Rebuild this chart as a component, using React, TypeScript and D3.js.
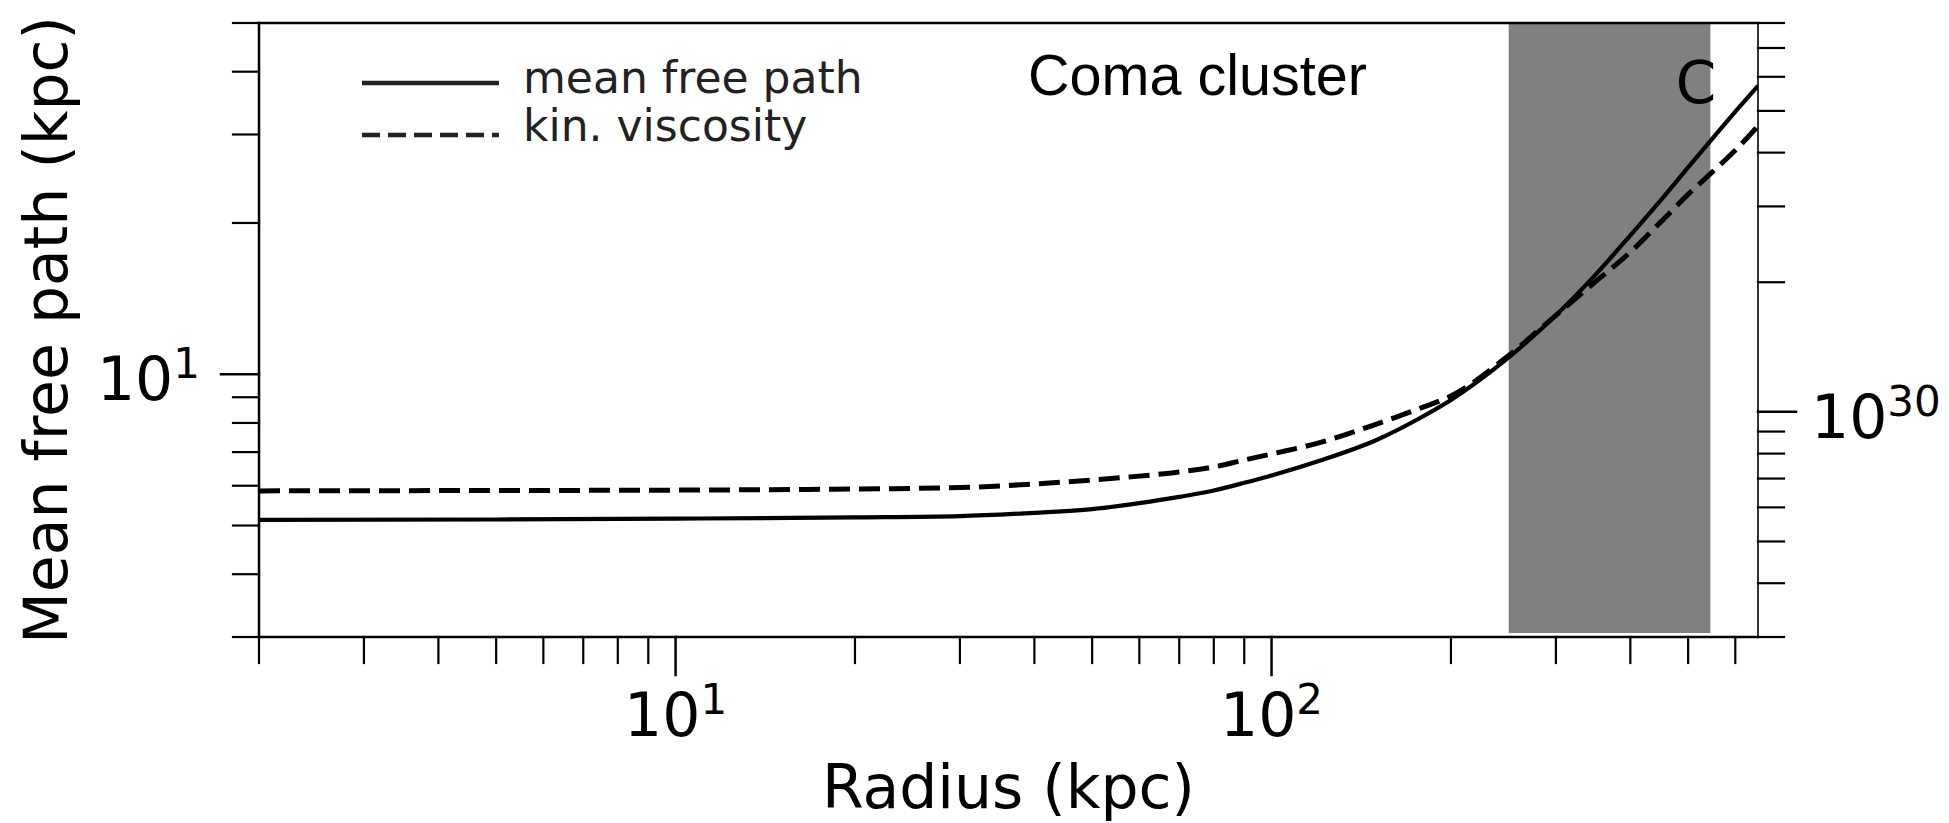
import { useEffect, useRef } from "react";
import * as d3 from "d3";

// Radius (kpc) sample points
const radius = [2, 5, 10, 20, 30, 40, 50, 60, 70, 80, 90, 100, 120, 150, 180, 200, 250, 300, 350, 400, 450, 500, 550, 600, 655];
// mean free path (kpc), solid line
const meanFreePath = [5.13, 5.14, 5.16, 5.19, 5.22, 5.3, 5.39, 5.54, 5.7, 5.87, 6.08, 6.29, 6.72, 7.4, 8.26, 8.89, 10.8, 13.1, 15.8, 18.9, 22.2, 25.8, 29.5, 33.3, 37.5];
// kinematic viscosity, dashed line (drawn in left-axis units)
const kinViscosity = [5.86, 5.87, 5.88, 5.91, 5.95, 6.05, 6.16, 6.27, 6.39, 6.54, 6.75, 6.94, 7.3, 7.96, 8.61, 9.05, 10.9, 13.1, 15.3, 17.5, 20.1, 22.8, 25.3, 27.9, 31.2];

// shaded band (kpc)
const bandRange = [250, 545];

const xDomain = [2, 655];
const yDomain = [3, 50];
const yRightDomain = [3e29, 8e30];

const xMajor = [10, 100];
const xMajorExp = ["1", "2"];
const xMinor = [2, 3, 4, 5, 6, 7, 8, 9, 20, 30, 40, 50, 60, 70, 80, 90, 200, 300, 400, 500, 600];
const yMajor = [10];
const yMajorExp = ["1"];
const yMinor = [3, 4, 5, 6, 7, 8, 9, 20, 30, 40, 50];
const yRightMajor = [1e30];
const yRightMajorExp = ["30"];
const yRightMinor = [3e29, 4e29, 5e29, 6e29, 7e29, 8e29, 9e29, 2e30, 3e30, 4e30, 5e30, 6e30, 7e30, 8e30];

const legendItems = [
    { label: "mean free path", dash: null },
    { label: "kin. viscosity", dash: "18,8" },
];

export default function App() {
    const svgRef = useRef<SVGSVGElement>(null);

    useEffect(() => {
        document.body.style.margin = "0";
        if (!svgRef.current) return;

        const svg = d3.select(svgRef.current);
        svg.selectAll("*").remove();

        const W = 1949, H = 823;
        const left = 259, right = 1758, top = 23, bottom = 637;
        const font = "'DejaVu Sans', sans-serif";

        svg.attr("width", W).attr("height", H);

        const x = d3.scaleLog().domain(xDomain).range([left, right]);
        const y = d3.scaleLog().domain(yDomain).range([bottom, top]);
        const yR = d3.scaleLog().domain(yRightDomain).range([bottom, top]);

        svg.append("defs").append("clipPath").attr("id", "plot-clip")
            .append("rect").attr("x", left).attr("y", top)
            .attr("width", right - left).attr("height", bottom - top);

        // Shaded band
        svg.append("rect")
            .attr("x", x(bandRange[0]))
            .attr("y", top)
            .attr("width", x(bandRange[1]) - x(bandRange[0]))
            .attr("height", bottom - top - 4)
            .attr("fill", "#808080");

        // Curves
        const line = d3.line<number>()
            .x((_, i) => x(radius[i]))
            .y(d => y(d))
            .curve(d3.curveMonotoneX);

        const plot = svg.append("g").attr("clip-path", "url(#plot-clip)");
        plot.append("path")
            .attr("d", line(meanFreePath))
            .attr("fill", "none")
            .attr("stroke", "#000")
            .attr("stroke-width", 4.2);
        plot.append("path")
            .attr("d", line(kinViscosity))
            .attr("fill", "none")
            .attr("stroke", "#000")
            .attr("stroke-width", 5)
            .attr("stroke-dasharray", "21,9");

        // Spines
        const spine = (x1: number, y1: number, x2: number, y2: number, w: number) =>
            svg.append("line").attr("x1", x1).attr("y1", y1).attr("x2", x2).attr("y2", y2)
                .attr("stroke", "#000").attr("stroke-width", w).attr("stroke-linecap", "square");
        spine(left, top, right, top, 2.5);
        spine(left, bottom, right, bottom, 2.5);
        spine(left, top, left, bottom, 2.5);
        spine(right, top, right, bottom, 1.6);

        const majorLen = 38, minorLen = 26;

        // X ticks
        xMinor.forEach(v => spine(x(v), bottom, x(v), bottom + minorLen, 2.2));
        xMajor.forEach(v => spine(x(v), bottom, x(v), bottom + majorLen, 2.5));
        // Left Y ticks
        yMinor.forEach(v => spine(left, y(v), left - minorLen, y(v), 2.2));
        yMajor.forEach(v => spine(left, y(v), left - majorLen, y(v), 2.5));
        // Right Y ticks
        yRightMinor.forEach(v => spine(right, yR(v), right + minorLen, yR(v), 2.2));
        yRightMajor.forEach(v => spine(right, yR(v), right + majorLen, yR(v), 2.5));

        const powLabel = (px: number, py: number, exp: string, anchor: string) => {
            const t = svg.append("text")
                .attr("x", px).attr("y", py)
                .attr("text-anchor", anchor)
                .attr("font-family", font)
                .attr("font-size", 60)
                .attr("fill", "#000");
            t.append("tspan").text("10");
            t.append("tspan").attr("font-size", 42).attr("dy", -22).text(exp);
        };

        xMajor.forEach((v, i) => powLabel(x(v), bottom + 99, xMajorExp[i], "middle"));
        yMajor.forEach((v, i) => powLabel(left - 59, y(v) + 26, yMajorExp[i], "end"));
        yRightMajor.forEach((v, i) => powLabel(right + 53, yR(v) + 26, yRightMajorExp[i], "start"));

        // Axis labels
        svg.append("text")
            .attr("x", (left + right) / 2).attr("y", 808)
            .attr("text-anchor", "middle")
            .attr("font-family", font).attr("font-size", 60)
            .text("Radius (kpc)");
        svg.append("text")
            .attr("transform", `translate(67,${(top + bottom) / 2}) rotate(-90)`)
            .attr("text-anchor", "middle")
            .attr("font-family", font).attr("font-size", 60)
            .text("Mean free path (kpc)");

        // Legend
        legendItems.forEach((item, i) => {
            const ly = 83 + i * 52;
            const l = svg.append("line")
                .attr("x1", 362).attr("x2", 499)
                .attr("y1", ly).attr("y2", ly)
                .attr("stroke", "#222").attr("stroke-width", 4.5);
            if (item.dash) l.attr("stroke-dasharray", item.dash);
            svg.append("text")
                .attr("x", 523).attr("y", ly + 10 - i * 4)
                .attr("font-family", font).attr("font-size", 44)
                .attr("fill", "#222")
                .text(item.label);
        });

        // Annotations
        svg.append("text")
            .attr("x", 1028).attr("y", 95)
            .attr("font-family", "'Liberation Sans', Arial, sans-serif")
            .attr("font-size", 58)
            .attr("textLength", 339)
            .attr("lengthAdjust", "spacingAndGlyphs")
            .text("Coma cluster");
        svg.append("text")
            .attr("x", 1696).attr("y", 103)
            .attr("text-anchor", "middle")
            .attr("font-family", font).attr("font-size", 58)
            .text("C");
    }, []);

    return <svg ref={svgRef} style={{ display: "block" }}></svg>;
}
